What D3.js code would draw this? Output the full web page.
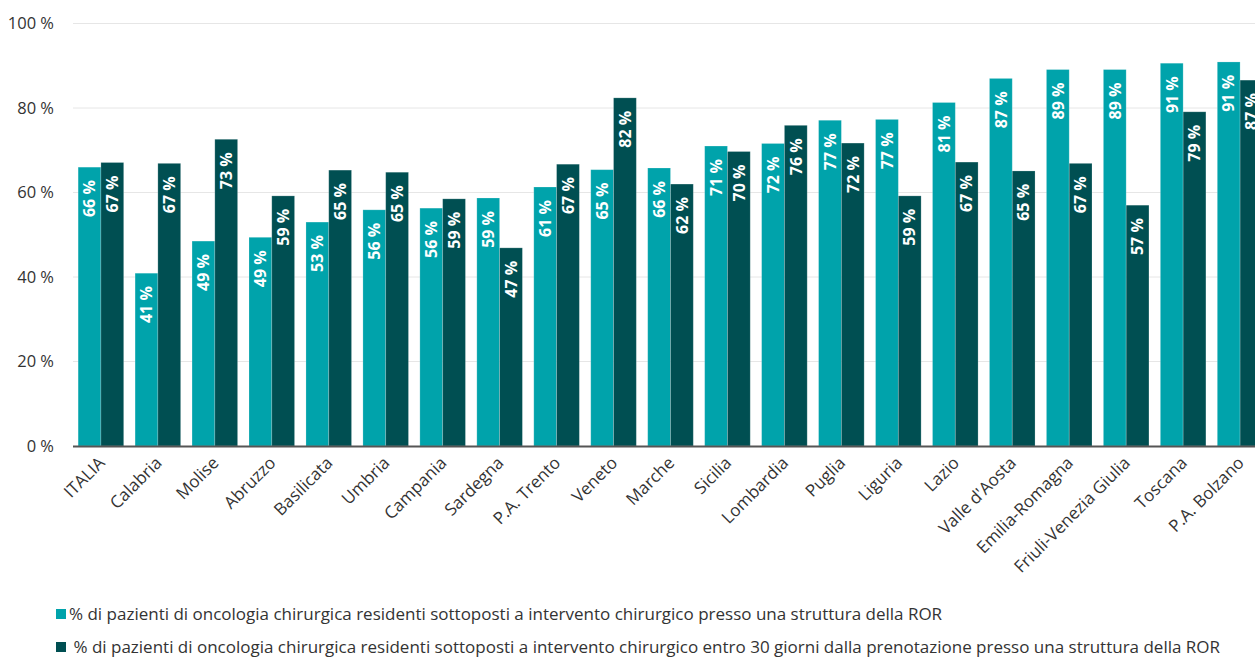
<!DOCTYPE html>
<html lang="it">
<head>
<meta charset="UTF-8">
<title>ROR oncologia chirurgica</title>
<script src="https://d3js.org/d3.v7.min.js"></script>
<style>
  body, html { margin: 0; padding: 0; background: #fff; }
  svg { display: block; font-family: "Open Sans", "Noto Sans", sans-serif; }
</style>
</head>
<body>
<script>
// categories and values
const regions = ["ITALIA", "Calabria", "Molise", "Abruzzo", "Basilicata", "Umbria", "Campania",
  "Sardegna", "P.A. Trento", "Veneto", "Marche", "Sicilia", "Lombardia", "Puglia", "Liguria",
  "Lazio", "Valle d'Aosta", "Emilia-Romagna", "Friuli-Venezia Giulia", "Toscana", "P.A. Bolzano"];
const presso = [66.0, 40.9, 48.5, 49.4, 53.0, 55.9, 56.3, 58.7, 61.3, 65.4, 65.8, 71.0, 71.6, 77.1, 77.3,
  81.3, 87.0, 89.1, 89.1, 90.6, 90.9];
const entro30 = [67.1, 66.9, 72.6, 59.2, 65.3, 64.8, 58.5, 46.9, 66.7, 82.4, 62.0, 69.7, 75.9, 71.7, 59.2,
  67.2, 65.1, 66.9, 57.0, 79.1, 86.6];
const yTicks = [0, 20, 40, 60, 80, 100];
const legendLabels = [
  "% di pazienti di oncologia chirurgica residenti sottoposti a intervento chirurgico presso una struttura della ROR",
  " % di pazienti di oncologia chirurgica residenti sottoposti a intervento chirurgico entro 30 giorni dalla prenotazione presso una struttura della ROR"
];
const colors = ["#00a3ab", "#004f52"];

const width = 1255, height = 657;
const plotLeft = 73, plotRight = 1268, plotTop = 23.5, plotBottom = 446;

const svg = d3.select("body").append("svg")
  .attr("width", width)
  .attr("height", height);

const x0 = d3.scaleBand().domain(regions).range([plotLeft, plotRight]).paddingInner(0.2).paddingOuter(0.09);
const x1 = d3.scaleBand().domain([0, 1]).range([0, x0.bandwidth()]);
const y = d3.scaleLinear().domain([0, 100]).range([plotBottom, plotTop]);

// grid
svg.append("g")
  .selectAll("line")
  .data(yTicks.filter(d => d > 0))
  .join("line")
  .attr("x1", plotLeft).attr("x2", width)
  .attr("y1", d => y(d)).attr("y2", d => y(d))
  .attr("stroke", "#e6e6e6").attr("stroke-width", 1);

// y axis labels
const yAxis = svg.append("g")
  .attr("transform", `translate(${plotLeft - 19},0)`)
  .call(d3.axisLeft(y).tickValues(yTicks).tickSize(0).tickPadding(0).tickFormat(d => d + " %"));
yAxis.select(".domain").remove();
yAxis.selectAll("text")
  .attr("fill", "#333").attr("font-size", 16.5)
  .attr("font-family", "'Open Sans', sans-serif");

// bars
const rows = regions.map((r, i) => ({ region: r, vals: [presso[i], entro30[i]] }));
const groups = svg.append("g").selectAll("g")
  .data(rows)
  .join("g")
  .attr("transform", d => `translate(${x0(d.region)},0)`);

groups.selectAll("rect")
  .data(d => d.vals.map((v, k) => ({ v, k })))
  .join("rect")
  .attr("x", d => x1(d.k))
  .attr("width", x1.bandwidth())
  .attr("y", d => y(d.v))
  .attr("height", d => y(0) - y(d.v))
  .attr("fill", d => colors[d.k])
  .attr("stroke", "#ffffff").attr("stroke-opacity", 0.25).attr("stroke-width", 0.8);

groups.selectAll("text")
  .data(d => d.vals.map((v, k) => ({ v, k })))
  .join("text")
  .attr("transform", d => `translate(${x1(d.k) + x1.bandwidth() / 2},${y(d.v) + 13}) rotate(-90)`)
  .attr("text-anchor", "end")
  .attr("dy", "0.36em")
  .attr("fill", "#fff")
  .attr("font-weight", "bold")
  .attr("font-size", 16)
  .text(d => Math.round(d.v) + " %");

// baseline
svg.append("line")
  .attr("x1", plotLeft).attr("x2", width)
  .attr("y1", y(0) + 0.5).attr("y2", y(0) + 0.5)
  .attr("stroke", "#555").attr("stroke-width", 2);

// x labels
svg.append("g").selectAll("text")
  .data(regions)
  .join("text")
  .attr("transform", d => `translate(${x0(d) + x0.bandwidth() / 2 + 5},${plotBottom + 18}) rotate(-45)`)
  .attr("text-anchor", "end")
  .attr("fill", "#333")
  .attr("font-size", 17)
  .text(d => d);

// legend
const legend = svg.append("g").selectAll("g")
  .data(legendLabels)
  .join("g")
  .attr("transform", (d, i) => `translate(56,${614 + i * 33})`);
legend.append("rect")
  .attr("x", 0).attr("y", -5).attr("width", 10).attr("height", 10)
  .attr("fill", (d, i) => colors[i]);
legend.append("text")
  .attr("x", 13).attr("dy", "0.35em")
  .attr("fill", "#333").attr("font-size", 17)
  .attr("xml:space", "preserve")
  .style("white-space", "pre")
  .text(d => d);
</script>
</body>
</html>
